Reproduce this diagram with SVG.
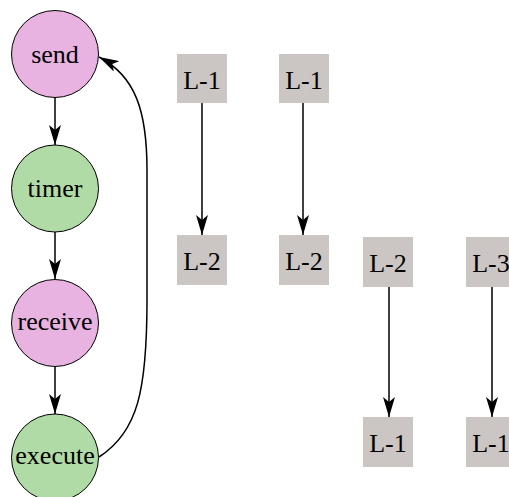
<svg xmlns="http://www.w3.org/2000/svg" width="509" height="497" viewBox="0 0 509 497">
<defs>
<style>
.pk{fill:#e8b3e0;stroke:#000;stroke-width:1}
.gr{fill:#b0dba6;stroke:#000;stroke-width:1}
.bx{fill:#cbc5c3;stroke:none}
.e{fill:none;stroke:#000;stroke-width:1.5}
</style>
<marker id="ah" viewBox="0 0 20 12" refX="20" refY="6" markerWidth="20" markerHeight="12" markerUnits="userSpaceOnUse" orient="auto">
<path d="M0,0 L20,6 L0,12 L5,6 Z" fill="#000"/>
</marker>
</defs>
<g id="edges">
<line class="e" x1="55" y1="98" x2="55" y2="145" marker-end="url(#ah)"/>
<line class="e" x1="55" y1="232" x2="55" y2="279" marker-end="url(#ah)"/>
<line class="e" x1="55" y1="366" x2="55" y2="414" marker-end="url(#ah)"/>
<path class="e" d="M99,457 C138,432 147,390 147,300 L147,170 C147,110 135,76 99,57" marker-end="url(#ah)"/>
<line class="e" x1="202" y1="103" x2="202" y2="235" marker-end="url(#ah)"/>
<line class="e" x1="303" y1="103" x2="303" y2="235" marker-end="url(#ah)"/>
<line class="e" x1="389" y1="287" x2="389" y2="417" marker-end="url(#ah)"/>
<line class="e" x1="492" y1="287" x2="492" y2="417" marker-end="url(#ah)"/>
</g>
<g font-family="Times New Roman, Liberation Serif, DejaVu Serif, serif" font-size="26" text-anchor="middle" fill="#000">
<g id="send"><circle class="pk" cx="55" cy="54" r="43.5"/><text x="55" y="63">send</text></g>
<g id="timer"><circle class="gr" cx="55" cy="188.5" r="43.5"/><text x="55" y="197">timer</text></g>
<g id="receive"><circle class="pk" cx="55" cy="323" r="43.5"/><text x="55" y="330">receive</text></g>
<g id="execute"><circle class="gr" cx="55" cy="457.5" r="43.5"/><text x="55" y="464">execute</text></g>
<g id="a1"><rect class="bx" x="177" y="54" width="50" height="49"/><text x="202" y="89">L-1</text></g>
<g id="a2"><rect class="bx" x="177" y="235" width="50" height="50"/><text x="202" y="270">L-2</text></g>
<g id="b1"><rect class="bx" x="279" y="54" width="50" height="49"/><text x="304" y="89">L-1</text></g>
<g id="b2"><rect class="bx" x="279" y="235" width="50" height="50"/><text x="304" y="270">L-2</text></g>
<g id="c1"><rect class="bx" x="363" y="237" width="50" height="50"/><text x="388" y="272">L-2</text></g>
<g id="c2"><rect class="bx" x="363" y="417" width="50" height="50"/><text x="388" y="452">L-1</text></g>
<g id="d1"><rect class="bx" x="466" y="237" width="50" height="50"/><text x="491" y="272">L-3</text></g>
<g id="d2"><rect class="bx" x="466" y="417" width="50" height="50"/><text x="491" y="452">L-1</text></g>
</g>
</svg>
